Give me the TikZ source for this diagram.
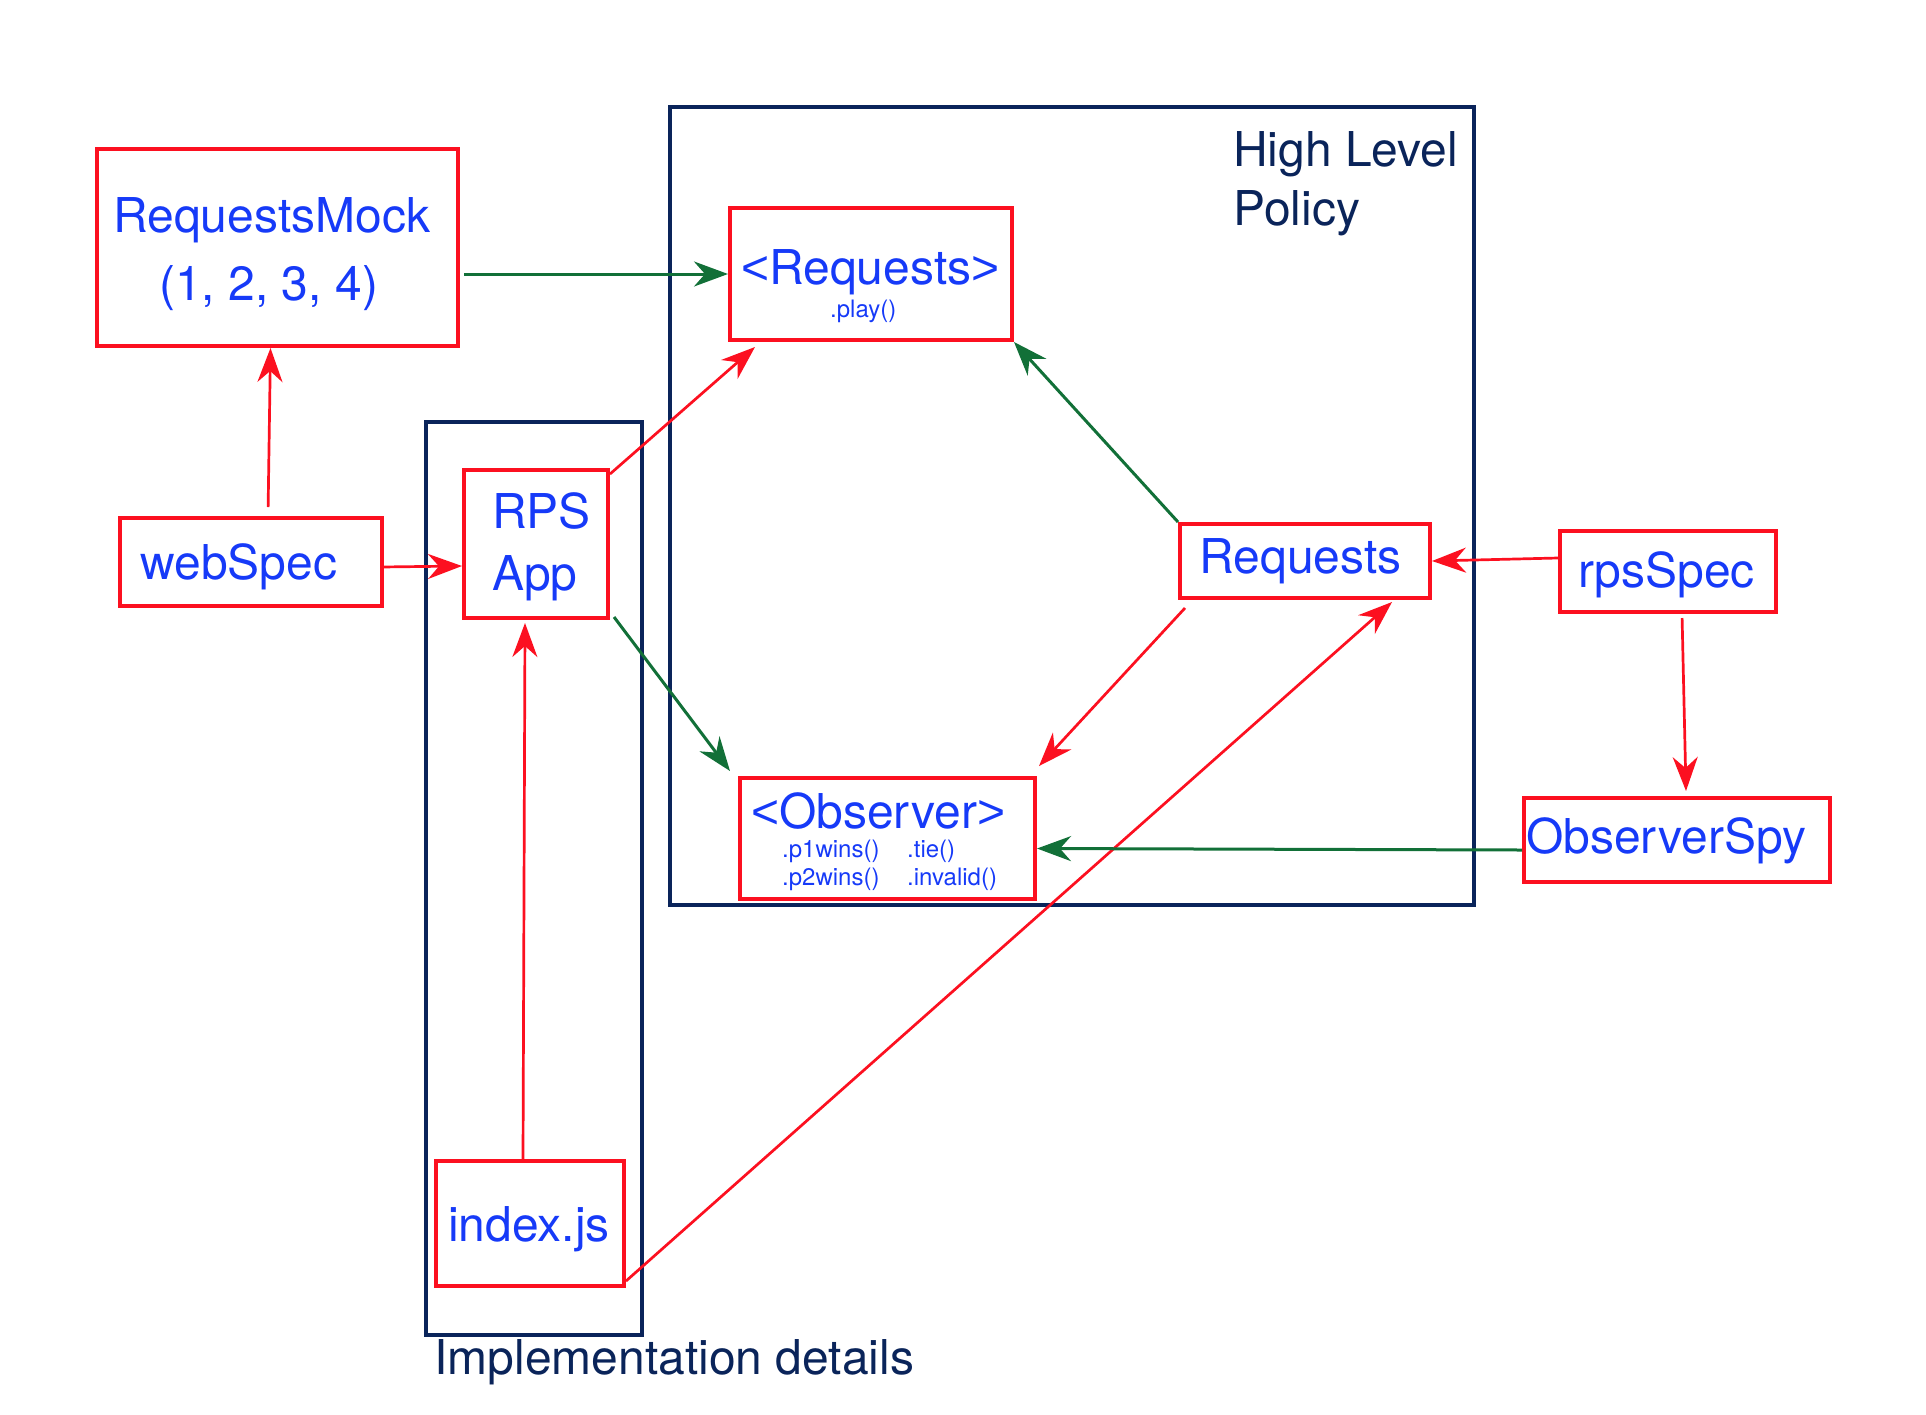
\documentclass[tikz,border=0pt]{standalone}
\usepackage{fontspec}
\setmainfont{TeX Gyre Heros}
\newfontfamily\libsans{Liberation Sans}
\usetikzlibrary{arrows.meta}
\definecolor{boxred}{RGB}{252,16,32}
\definecolor{txtblue}{RGB}{22,58,248}
\definecolor{arrgreen}{RGB}{18,112,56}
\definecolor{navy}{RGB}{10,36,90}
\newcommand{\lt}{{\libsans <}}
\newcommand{\gtsym}{{\libsans >}}
\tikzset{
  redbox/.style={draw=boxred, line width=4pt, rectangle, inner sep=0pt},
  navybox/.style={draw=navy, line width=3.5pt, rectangle, inner sep=0pt},
  bigtxt/.style={text=txtblue, inner sep=0pt, anchor=base west, font=\fontsize{48}{56}\selectfont},
  smalltxt/.style={text=txtblue, inner sep=0pt, anchor=base west, font=\fontsize{24}{28}\selectfont},
  navytxt/.style={text=navy, inner sep=0pt, anchor=base west, font=\fontsize{48}{56}\selectfont},
  redarrow/.style={draw=boxred, line width=2.7pt, -{Stealth[length=34pt,width=25pt,inset=11pt]}},
  greenarrow/.style={draw=arrgreen, line width=3pt, -{Stealth[length=34pt,width=25pt,inset=11pt]}},
}
\begin{document}
\begin{tikzpicture}[x=1pt,y=-1pt]
\useasboundingbox (0,0) rectangle (1926,1414);
% container boxes
\node[navybox, minimum width=804pt, minimum height=798pt] (hlp) at (1072,506) {};
\node[navybox, minimum width=216pt, minimum height=913pt] (impl) at (534,878.5) {};
\node[navytxt] (hlpt1) at (1233,166) {High Level};
\node[navytxt] (hlpt2) at (1233,225) {Policy};
\node[navytxt] (implt) at (434,1374) {Implementation details};
% red boxes
\node[redbox, minimum width=361pt, minimum height=197pt] (rm) at (277.5,247.5) {};
\node[redbox, minimum width=282pt, minimum height=132pt] (ireq) at (871,274) {};
\node[redbox, minimum width=262pt, minimum height=88pt] (web) at (251,562) {};
\node[redbox, minimum width=144pt, minimum height=148pt] (rps) at (536,544) {};
\node[redbox, minimum width=250pt, minimum height=74pt] (req) at (1305,561) {};
\node[redbox, minimum width=216pt, minimum height=81pt] (rpsspec) at (1668,571.5) {};
\node[redbox, minimum width=295pt, minimum height=121pt] (iobs) at (887.5,838.5) {};
\node[redbox, minimum width=306pt, minimum height=84pt] (spy) at (1677,840) {};
\node[redbox, minimum width=188pt, minimum height=125pt] (idx) at (530,1223.5) {};
% texts
\node[bigtxt] (rmt1) at (113,232) {RequestsMock};
\node[bigtxt] (rmt2) at (159,300) {(1, 2, 3, 4)};
\node[bigtxt] (ireqt) at (741,284) {\lt Requests\gtsym};
\node[smalltxt] (ireqm) at (830,317) {.play()};
\node[bigtxt] (webt) at (140,579) {webSpec};
\node[bigtxt] (rpst1) at (492,528) {RPS};
\node[bigtxt] (rpst2) at (492,590) {App};
\node[bigtxt] (reqt) at (1199,573) {Requests};
\node[bigtxt] (rpsspect) at (1578,587) {rpsSpec};
\node[bigtxt] (iobst) at (751,828) {\lt Observer\gtsym};
\node[smalltxt] (iobsm1) at (782,857) {.p1wins()};
\node[smalltxt] (iobsm2) at (907,857) {.tie()};
\node[smalltxt] (iobsm3) at (782,885) {.p2wins()};
\node[smalltxt] (iobsm4) at (907,885) {.invalid()};
\node[bigtxt] (spyt) at (1526,853) {ObserverSpy};
\node[bigtxt] (idxt) at (448,1241) {index.js};
% connectors
\draw[greenarrow, shorten <=4pt] (rm.east |- ireq.west) -- (ireq.west);
\draw[redarrow, shorten <=9pt] ([xshift=17pt]web.north) -- ([xshift=-7pt]rm.south);
\draw[redarrow] ([yshift=-5pt,xshift=-3pt]web.east) -- ([yshift=-22pt]rps.west);
\draw[redarrow] ([yshift=-6pt]rps.north east) -- ([xshift=27pt,yshift=-5pt]ireq.south west);
\draw[greenarrow] ([xshift=4pt,yshift=3pt]rps.south east) -- ([xshift=-8pt,yshift=5pt]iobs.north west);
\draw[redarrow] ([xshift=-7pt]idx.north) -- ([xshift=-11pt,yshift=-3pt]rps.south);
\draw[greenarrow] (req.north west) -- (ireq.south east);
\draw[redarrow] ([yshift=13.5pt]rpsspec.west) -- (req.east);
\draw[redarrow] ([xshift=7pt,yshift=-8pt]req.south west) -- ([xshift=2pt,yshift=10pt]iobs.north east);
\draw[redarrow] ([yshift=7pt]idx.south east) -- ([xshift=-40pt,yshift=-2pt]req.south east);
\draw[redarrow, shorten <=4pt] ([xshift=14pt]rpsspec.south) -- ([xshift=9pt,yshift=5pt]spy.north);
\draw[greenarrow] ([yshift=-10pt]spy.west) -- ([yshift=-10pt]iobs.east);
\end{tikzpicture}
\end{document}
